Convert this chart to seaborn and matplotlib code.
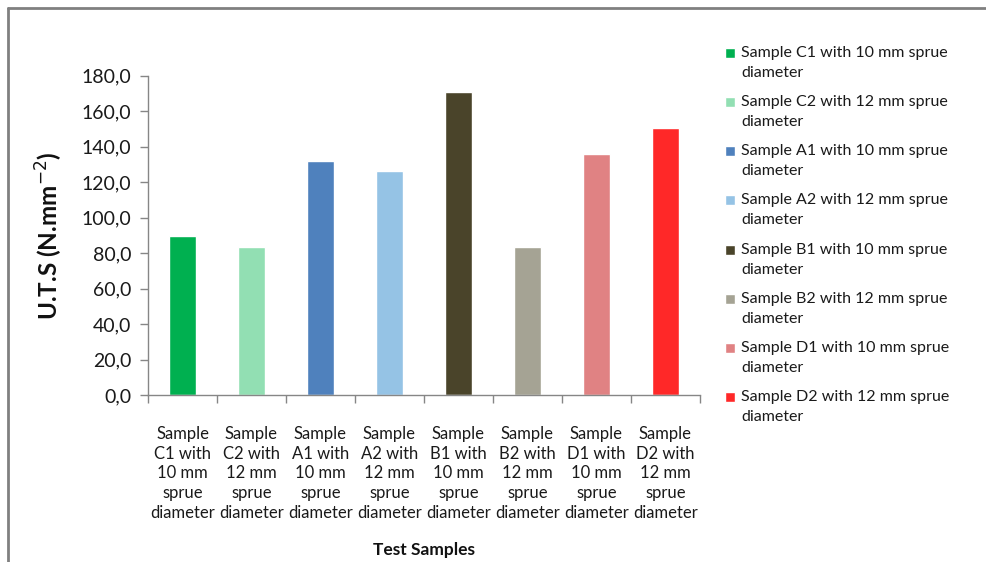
import matplotlib
matplotlib.use("Agg")
import matplotlib.pyplot as plt
import matplotlib.patches as mpatches
from matplotlib.legend_handler import HandlerPatch
import seaborn as sns
import pandas as pd
from matplotlib.ticker import FuncFormatter, FixedLocator
from matplotlib.lines import Line2D

# ---- data ----
codes = ["C1", "C2", "A1", "A2", "B1", "B2", "D1", "D2"]
diameters = [10, 12, 10, 12, 10, 12, 10, 12]
uts_values = [89.8, 83.3, 132.2, 126.2, 171.1, 83.3, 135.8, 150.5]
bar_colors = ["#00B050", "#92DFB3", "#4F81BD", "#95C3E5",
              "#4A442A", "#A5A394", "#E08283", "#FF2828"]
y_ticks = [0, 20, 40, 60, 80, 100, 120, 140, 160, 180]

tick_labels = [f"Sample\n{c} with\n{d} mm\nsprue\ndiameter" for c, d in zip(codes, diameters)]
legend_labels = [f"Sample {c} with {d} mm sprue\ndiameter" for c, d in zip(codes, diameters)]

df = pd.DataFrame({"sample": legend_labels, "uts": uts_values})

sns.set_theme(style="white")
plt.rcParams["font.family"] = ["Lato", "DejaVu Sans"]

fig = plt.figure(figsize=(9.87, 5.62), dpi=100)
ax = fig.add_axes([0.150, 0.297, 0.559, 0.568])

sns.barplot(data=df, x="sample", y="uts", hue="sample", palette=bar_colors,
            width=0.39, dodge=False, legend=True, ax=ax, saturation=1)

ax.set_ylim(0, 180)
ax.set_xlim(-0.5, len(codes) - 0.5)
ax.yaxis.set_major_locator(FixedLocator(y_ticks))
ax.yaxis.set_major_formatter(FuncFormatter(lambda v, p: f"{v:.1f}".replace(".", ",")))
ax.set_xticks(range(len(codes)))
ax.set_xticklabels(tick_labels, fontsize=12, color="#1a1a1a", linespacing=1.3)
ax.tick_params(axis="x", length=0, pad=22)
# category boundary ticks
ax.set_xticks([i - 0.5 for i in range(len(codes) + 1)], minor=True)
ax.tick_params(axis="x", which="minor", length=6, color="#868686", width=1, direction="out", bottom=True)
ax.tick_params(axis="y", length=6, color="#868686", width=1, direction="out", left=True,
               labelsize=14, labelcolor="#1a1a1a", pad=6)

for s in ["top", "right"]:
    ax.spines[s].set_visible(False)
for s in ["left", "bottom"]:
    ax.spines[s].set_color("#868686")
    ax.spines[s].set_linewidth(1)

ax.set_ylabel("U.T.S (N.mm$^{-2}$)", fontsize=17.5, fontweight="bold", color="#111111", labelpad=12)
ax.set_xlabel("Test Samples", fontsize=12.5, fontweight="bold", color="#111111")
ax.xaxis.set_label_coords(0.5, -0.46)

handles, labels = ax.get_legend_handles_labels()
if ax.get_legend() is not None:
    ax.get_legend().remove()


def top_aligned_rect(legend, orig_handle, xdescent, ydescent, width, height, fontsize):
    # marker aligned with the first line of a two-line label
    return mpatches.Rectangle((-xdescent, -ydescent + 0.62 * fontsize), width, height)


hmap = {h: HandlerPatch(patch_func=top_aligned_rect) for h in handles}
leg = fig.legend(handles, legend_labels, loc="upper left", bbox_to_anchor=(0.728, 0.93),
                 frameon=False, fontsize=11.5, handlelength=0.6, handleheight=0.6,
                 handletextpad=0.4, labelspacing=0.95, borderaxespad=0, handler_map=hmap)
for t in leg.get_texts():
    t.set_color("#1a1a1a")
    t.set_linespacing(1.55)

# outer chart frame
fig.add_artist(Line2D([0.008, 0.008], [0.0, 0.986], transform=fig.transFigure, color="#808080", lw=2))
fig.add_artist(Line2D([0.008, 1.0], [0.986, 0.986], transform=fig.transFigure, color="#808080", lw=2))

fig.savefig("out.png", dpi=100)
